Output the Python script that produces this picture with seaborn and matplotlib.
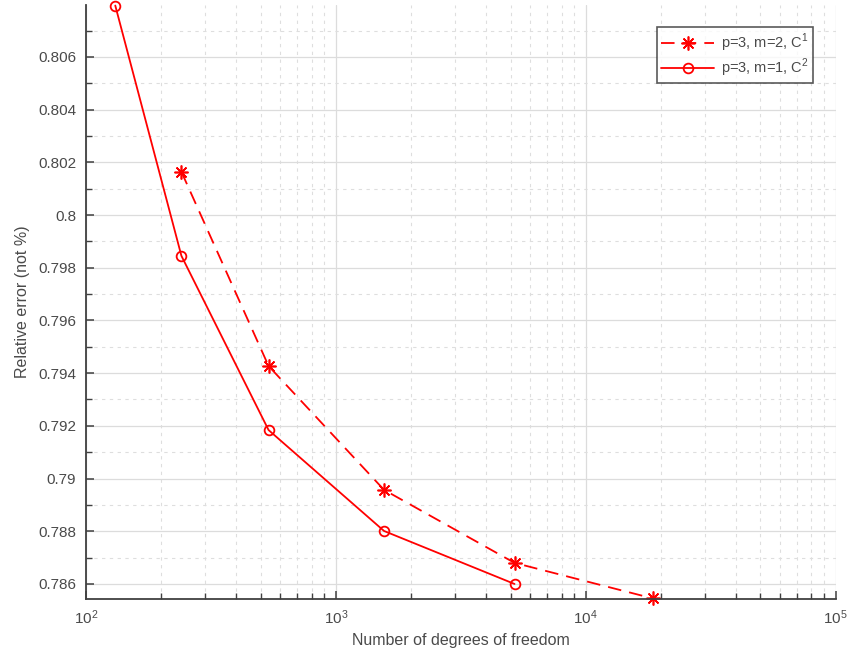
import numpy as np
import pandas as pd
import matplotlib
matplotlib.use("Agg")
import matplotlib.pyplot as plt
import seaborn as sns
from matplotlib.ticker import LogLocator, MultipleLocator, NullFormatter, FixedLocator

# Data
dof_c1 = [241, 538, 1559, 5186, 18570]
err_c1 = [0.80164, 0.79427, 0.78957, 0.78680, 0.78545]
dof_c2 = [131, 241, 538, 1559, 5186]
err_c2 = [0.80795, 0.79845, 0.79184, 0.78801, 0.78600]
labels = [r"p=3, m=2, C$^1$", r"p=3, m=1, C$^2$"]
y_ticks = [0.786, 0.788, 0.79, 0.792, 0.794, 0.796, 0.798, 0.8, 0.802, 0.804, 0.806]
y_ticklabels = ["0.786", "0.788", "0.79", "0.792", "0.794", "0.796", "0.798", "0.8", "0.802", "0.804", "0.806"]

sns.set_theme(style="white")
plt.rcParams["font.family"] = ["Liberation Sans", "DejaVu Sans"]
plt.rcParams["mathtext.fontset"] = "custom"
plt.rcParams["mathtext.rm"] = "Liberation Sans"

fig = plt.figure(figsize=(8.51, 6.58), dpi=100)
ax = fig.add_axes([0.101, 0.0897, 0.881, 0.9027])

df1 = pd.DataFrame({"dof": dof_c1, "err": err_c1})
df2 = pd.DataFrame({"dof": dof_c2, "err": err_c2})

sns.lineplot(data=df1, x="dof", y="err", ax=ax, color="#ff0000", lw=1.3,
             marker=(8, 2, 0), markersize=10, markeredgewidth=1.2,
             markeredgecolor="#ff0000",
             label=labels[0], clip_on=False)
sns.lineplot(data=df2, x="dof", y="err", ax=ax, color="#ff0000", lw=1.3,
             marker="o", markersize=7, markerfacecolor="none",
             markeredgewidth=1.3, markeredgecolor="#ff0000",
             label=labels[1], clip_on=False)
ax.lines[0].set_linestyle((0, (7.5, 4.5)))

ax.set_xscale("log")
ax.set_xlim(100, 1e5)
ax.set_ylim(0.78543, 0.80797)

ax.xaxis.set_major_locator(LogLocator(base=10, numticks=10))
ax.xaxis.set_minor_locator(LogLocator(base=10, subs=np.arange(2, 10), numticks=20))
ax.xaxis.set_minor_formatter(NullFormatter())
ax.yaxis.set_major_locator(FixedLocator(y_ticks))
ax.set_yticklabels(y_ticklabels)
ax.yaxis.set_minor_locator(MultipleLocator(0.001))

ax.grid(True, which="major", color="#dcdcdc", lw=0.9, ls="-")
ax.grid(True, which="minor", color="#dedede", lw=0.8, ls=(0, (3, 4)))
ax.set_axisbelow(True)

for s in ["top", "right"]:
    ax.spines[s].set_visible(False)
for s in ["left", "bottom"]:
    ax.spines[s].set_color("#404040")
    ax.spines[s].set_linewidth(1.3)

ax.tick_params(which="major", direction="in", length=6, width=1.1, color="#404040",
               labelsize=11, labelcolor="#4a4a4a", pad=7)
ax.tick_params(which="minor", direction="in", length=4, width=1.0, color="#404040")
ax.tick_params(axis="x", which="both", bottom=True)
ax.tick_params(axis="y", which="both", left=True)

ax.set_xlabel("Number of degrees of freedom", fontsize=11.5, color="#4a4a4a", labelpad=4)
ax.set_ylabel("Relative error (not %)", fontsize=11.5, color="#4a4a4a", labelpad=6)

leg = ax.legend(loc="upper right", bbox_to_anchor=(0.98, 0.975), fontsize=10.5,
                frameon=True, fancybox=False, edgecolor="#303030",
                handlelength=3.6, handletextpad=0.5, borderpad=0.3, labelspacing=0.2)
leg.get_frame().set_linewidth(1.2)
for t in leg.get_texts():
    t.set_color("#4a4a4a")

fig.savefig("out.png", dpi=100)
